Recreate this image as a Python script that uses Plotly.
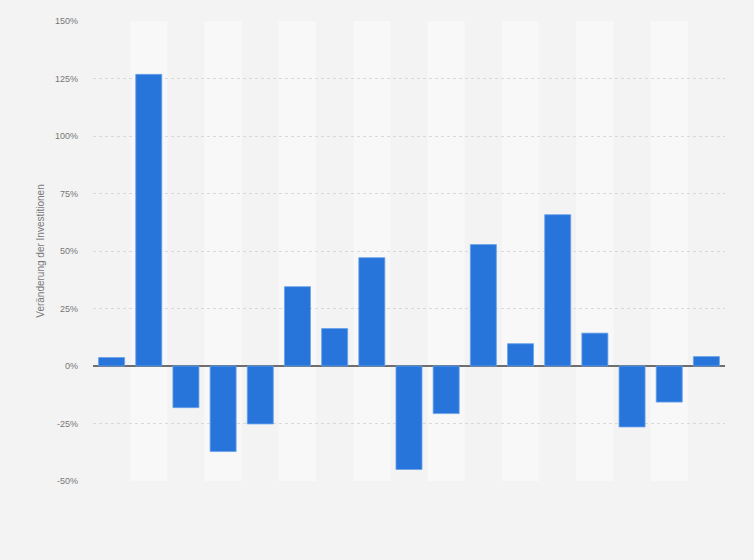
import plotly.graph_objects as go

# Veränderung der Investitionen (%), 17 Perioden ohne sichtbare Beschriftung
kategorien = ["1", "2", "3", "4", "5", "6", "7", "8", "9", "10", "11", "12", "13", "14", "15", "16", "17"]
veraenderung = [3.7, 126.8, -18.1, -37.2, -25.2, 34.5, 16.3, 47.1, -45.0, -20.7,
                52.8, 9.7, 65.8, 14.3, -26.5, -15.7, 4.1]
y_ticks = [-50, -25, 0, 25, 50, 75, 100, 125, 150]
y_labels = [f"{t}%" for t in y_ticks]

fig = go.Figure()
fig.add_trace(go.Bar(
    x=kategorien, y=veraenderung,
    marker=dict(color="#2775db", line=dict(color="#6aa2e8", width=0.8)),
    width=0.7,
    hoverinfo="y",
))

# helle Hintergrundstreifen für jede zweite Kategorie
shapes = []
for i, k in enumerate(kategorien):
    if i % 2 == 1:
        shapes.append(dict(type="rect", xref="x", yref="paper",
                           x0=i - 0.5, x1=i + 0.5, y0=0, y1=1,
                           fillcolor="#f8f8f8", line=dict(width=0), layer="below"))

fig.update_layout(
    width=754, height=560,
    margin=dict(l=93, r=29, t=21, b=79),
    paper_bgcolor="#f3f3f3", plot_bgcolor="#f3f3f3",
    shapes=shapes,
    showlegend=False,
    bargap=0.3,
    font=dict(family="Liberation Sans, Arial, sans-serif", color="#666666", size=9),
    xaxis=dict(showticklabels=False, showgrid=False, zeroline=False,
               range=[-0.5, len(kategorien) - 0.5]),
    yaxis=dict(range=[-50, 150], tickvals=y_ticks, ticktext=y_labels,
               showgrid=True, gridcolor="#d9d9d9", griddash="dot", gridwidth=1,
               zeroline=True, zerolinecolor="#6e6e6e", zerolinewidth=1.5,
               ticks="", ticklabelstandoff=14,
               tickfont=dict(size=9, color="#777777"),
               title=dict(text="Veränderung der Investitionen",
                          font=dict(size=10, color="#777777"), standoff=8)),
)

# Seitenrand des Browsers entfernen, keine Werkzeugleiste
fig.write_html("out.html", config={"displayModeBar": False},
               post_script="document.body.style.margin='0';")
